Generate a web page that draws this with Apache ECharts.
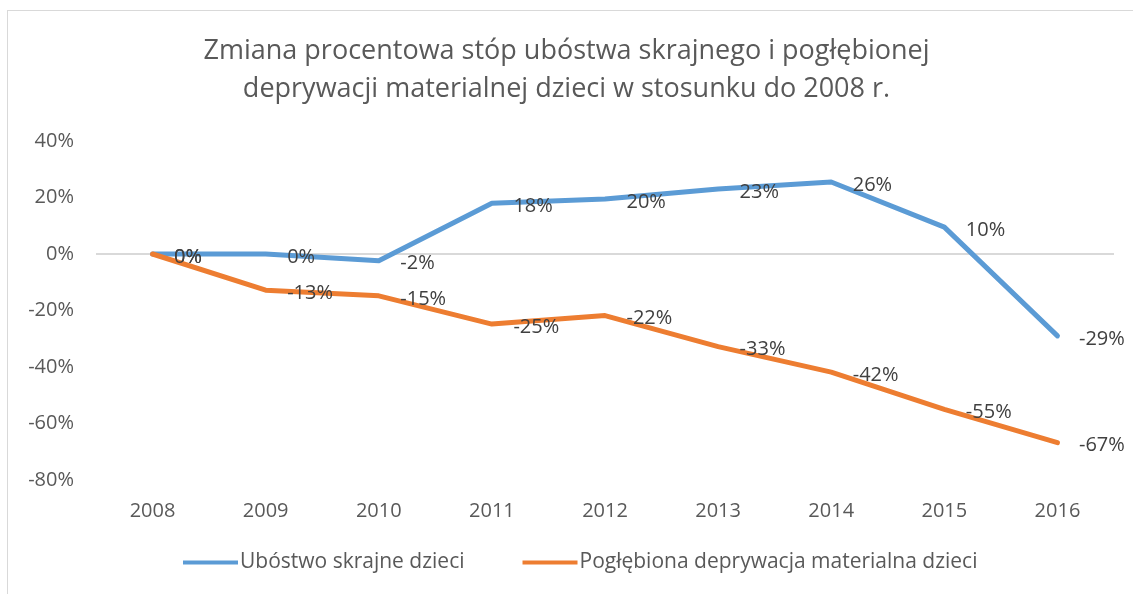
<!DOCTYPE html>
<html>
<head>
<meta charset="utf-8">
<script src="https://cdn.jsdelivr.net/npm/echarts@6/dist/echarts.min.js"></script>
<style>
  html, body { margin: 0; padding: 0; background: #fff; }
  #chart { width: 1133px; height: 594px; position: relative; }
  #frame { position: absolute; left: 7px; top: 10px; width: 1140px; height: 600px;
           border: 1px solid #d9d9d9; box-sizing: border-box; pointer-events: none; }
</style>
</head>
<body>
<div id="chart"></div>
<div id="frame"></div>
<script>
const years = ['2008', '2009', '2010', '2011', '2012', '2013', '2014', '2015', '2016']
// zmiana w % wzgledem 2008
const ubostwo = [0, 0, -2.4, 18, 19.5, 23, 25.5, 9.5, -29]
const deprywacja = [0, -12.8, -14.8, -24.8, -21.8, -32.8, -41.8, -55, -66.8]
const yTicks = [-80, -60, -40, -20, 0, 20, 40]

const chart = echarts.init(document.getElementById('chart'))

const labelStyle = {
  show: true,
  position: 'right',
  distance: 21,
  offset: [0, 3],
  color: '#404040',
  fontSize: 20,
  fontFamily: 'Open Sans',
  formatter: p => Math.round(p.value) + '%'
}

chart.setOption({
  animation: false,
  title: {
    text: 'Zmiana procentowa stóp ubóstwa skrajnego i pogłębionej\ndeprywacji materialnej dzieci w stosunku do 2008 r.',
    left: 'center',
    top: 27,
    textStyle: {
      color: '#595959',
      fontSize: 27,
      fontWeight: 'normal',
      fontFamily: 'Open Sans',
      lineHeight: 38
    }
  },
  legend: {
    bottom: 16,
    left: 178,
    itemWidth: 55,
    itemHeight: 4,
    itemGap: 58,
    icon: 'rect',
    textStyle: { color: '#595959', fontSize: 21, fontFamily: 'Open Sans', padding: [0, 0, 0, -3] },
    data: ['Ubóstwo skrajne dzieci', 'Pogłębiona deprywacja materialna dzieci']
  },
  grid: { left: 96, right: 19, top: 141, bottom: 114 },
  xAxis: {
    type: 'category',
    data: years,
    boundaryGap: true,
    axisLine: { onZero: false, show: false },
    axisTick: { show: false },
    axisLabel: { color: '#595959', fontSize: 20, fontFamily: 'Open Sans', margin: 21 }
  },
  yAxis: {
    type: 'value',
    min: yTicks[0],
    max: yTicks[yTicks.length - 1],
    interval: 20,
    axisLine: { show: false },
    axisTick: { show: false },
    splitLine: {
      show: true,
      lineStyle: { color: ['#fff', '#fff', '#fff', '#fff', '#d9d9d9', '#fff', '#fff'], width: 2 }
    },
    axisLabel: {
      color: '#595959', fontSize: 20, fontFamily: 'Open Sans', margin: 22,
      formatter: v => v + '%'
    }
  },
  series: [
    {
      name: 'Ubóstwo skrajne dzieci',
      type: 'line',
      data: ubostwo,
      symbol: 'circle',
      symbolSize: 1,
      color: '#5B9BD5',
      lineStyle: { width: 5, cap: 'round', join: 'round' },
      label: labelStyle,
      z: 3
    },
    {
      name: 'Pogłębiona deprywacja materialna dzieci',
      type: 'line',
      data: deprywacja,
      symbol: 'circle',
      symbolSize: 1,
      color: '#ED7D31',
      lineStyle: { width: 5, cap: 'round', join: 'round' },
      label: labelStyle,
      z: 4
    }
  ]
})
</script>
</body>
</html>
